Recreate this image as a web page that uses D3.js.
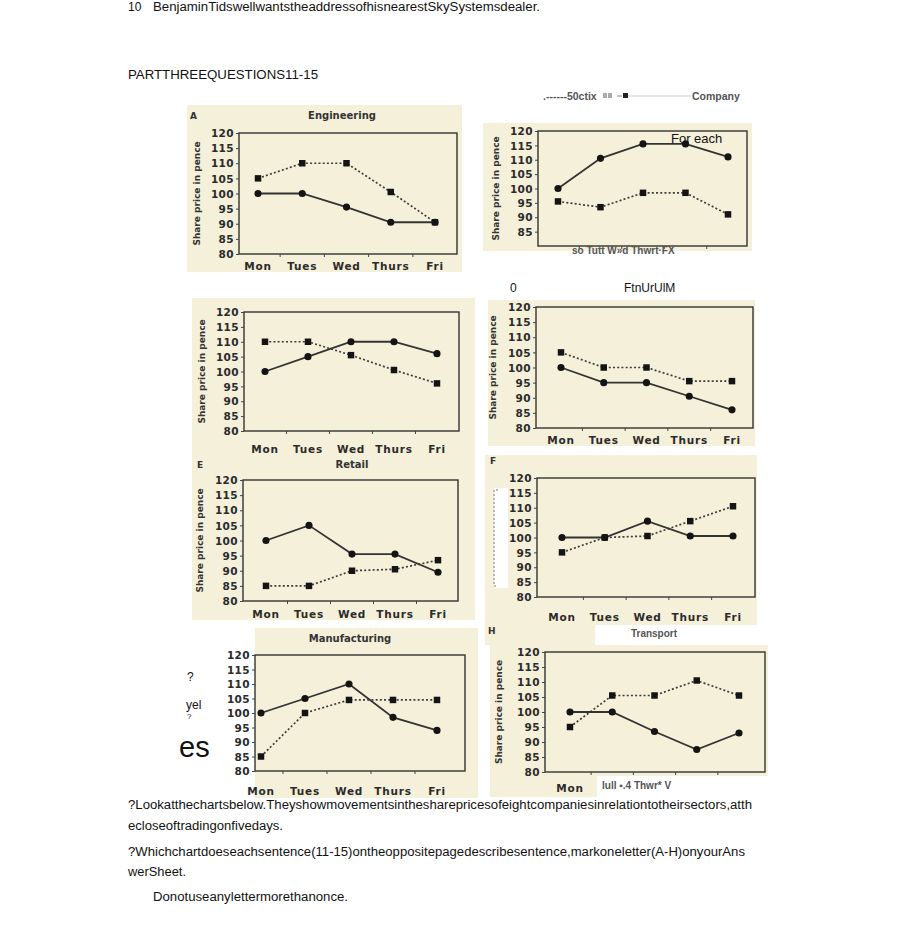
<!DOCTYPE html>
<html>
<head>
<meta charset="utf-8">
<script src="https://cdn.jsdelivr.net/npm/d3@7"></script>
<style>
  body { margin: 0; background: #fff; }
  svg { display: block; }
  .page { font-family: "Liberation Sans", Arial, sans-serif; font-size: 12px; fill: #111; }
  .tick { font-family: "DejaVu Sans", sans-serif; font-weight: bold; font-size: 10.5px; fill: #2b2b2b; }
  .ytitle { font-family: "DejaVu Sans", sans-serif; font-weight: bold; font-size: 9px; fill: #333; }
  .ptitle { font-family: "DejaVu Sans", sans-serif; font-weight: bold; font-size: 10px; fill: #333; }
  .garble { font-family: "Liberation Sans", Arial, sans-serif; font-weight: bold; font-size: 10.5px; fill: #555; }
</style>
</head>
<body>
<div id="chart"></div>
<script>
// ---- data ----
const days = ["Mon", "Tues", "Wed", "Thurs", "Fri"];
const yTicks = [80, 85, 90, 95, 100, 105, 110, 115, 120];

const companyA = [100, 100, 95.5, 90.5, 90.5];
const sectorA  = [105, 110, 110, 100.5, 90.5];
const companyB = [100, 110.5, 115.5, 115.5, 111];
const sectorB  = [95.5, 93.5, 98.5, 98.5, 91];
const companyC = [100, 105, 110, 110, 106];
const sectorC  = [110, 110, 105.5, 100.5, 96];
const companyD = [100, 95, 95, 90.5, 86];
const sectorD  = [105, 100, 100, 95.5, 95.5];
const companyE = [100, 105, 95.5, 95.5, 89.5];
const sectorE  = [85, 85, 90, 90.5, 93.5];
const companyF = [100, 100, 105.5, 100.5, 100.5];
const sectorF  = [95, 100, 100.5, 105.5, 110.5];
const companyG = [100, 105, 110, 98.5, 94];
const sectorG  = [85, 100, 104.5, 104.5, 104.5];
const companyH = [100, 100, 93.5, 87.5, 93];
const sectorH  = [95, 105.5, 105.5, 110.5, 105.5];

const pageLines = [
  "?Lookatthechartsbelow.Theyshowmovementsinthesharepricesofeightcompaniesinrelationtotheirsectors,atth",
  "ecloseoftradingonfivedays.",
  "?Whichchartdoeseachsentence(11-15)ontheoppositepagedescribesentence,markoneletter(A-H)onyourAns",
  "werSheet.",
  "Donotuseanylettermorethanonce."
];

// ---- layout of the eight panels (page positions) ----
const panels = [
  { company: companyA, sector: sectorA, bg: [[187, 105, 275, 167]],
    l: 239, r: 457, t: 133, b: 254, px: [258, 435],
    letter: ["A", 190, 119], title: ["Engineering", 342, 119], yTitleX: 197, xLabelY: 270 },
  { company: companyB, sector: sectorB, bg: [[483, 123, 269, 128]],
    l: 538, r: 747, t: 131, b: 246, px: [558, 728], yTitleX: 496, noBottomTick: true },
  { company: companyC, sector: sectorC, bg: [[192, 298, 283, 158]],
    l: 244, r: 459, t: 312, b: 431, px: [265, 437], yTitleX: 202, xLabelY: 453 },
  { company: companyD, sector: sectorD, bg: [[488, 300, 267, 146]],
    l: 536, r: 753, t: 307, b: 428, px: [561, 732], yTitleX: 493, xLabelY: 444 },
  { company: companyE, sector: sectorE, bg: [[192, 455, 283, 165]],
    l: 243, r: 458, t: 480, b: 601, px: [266, 438],
    letter: ["E", 197, 468], title: ["Retail", 352, 468], yTitleX: 200, xLabelY: 618 },
  { company: companyF, sector: sectorF, bg: [[485, 455, 272, 170]],
    l: 537, r: 755, t: 478, b: 597, px: [562, 733],
    letter: ["F", 490, 464], xLabelY: 621 },
  { company: companyG, sector: sectorG, bg: [[255, 628, 223, 170]],
    l: 255, r: 465, t: 655, b: 771, px: [261, 437],
    title: ["Manufacturing", 350, 642], xLabelY: 795 },
  { company: companyH, sector: sectorH, bg: [[490, 645, 278, 152], [485, 625, 110, 20]],
    l: 545, r: 765, t: 652, b: 772, px: [570, 739],
    letter: ["H", 488, 634], yTitleX: 499, xLabelY: 792, onlyFirstLabel: true }
];

const W = 920, H = 949;
const cream = "#f4f0da";

const svg = d3.select("#chart").append("svg")
    .attr("width", W).attr("height", H);

svg.append("rect").attr("width", W).attr("height", H).attr("fill", "#fff");

// page text
svg.append("text").attr("class", "page").attr("x", 128).attr("y", 11).text("10");
svg.append("text").attr("class", "page").attr("x", 153).attr("y", 11)
    .attr("textLength", 387).attr("lengthAdjust", "spacingAndGlyphs")
    .text("BenjaminTidswellwantstheaddressofhisnearestSkySystemsdealer.");
svg.append("text").attr("class", "page").attr("x", 128).attr("y", 79)
    .attr("textLength", 190).attr("lengthAdjust", "spacingAndGlyphs")
    .text("PARTTHREEQUESTIONS11-15");

const lineX = [128, 128, 128, 128, 153];
const lineY = [809, 830, 856, 876, 901];
const lineW = [624, 155, 617, 58, 195];
svg.selectAll("text.body").data(pageLines).enter().append("text")
    .attr("class", "page body")
    .attr("x", (d, i) => lineX[i])
    .attr("y", (d, i) => lineY[i])
    .attr("textLength", (d, i) => lineW[i])
    .attr("lengthAdjust", "spacingAndGlyphs")
    .text(d => d);

// panels
panels.forEach(function(p) {
    const g = svg.append("g");

    p.bg.forEach(function(r) {
        g.append("rect").attr("x", r[0]).attr("y", r[1])
            .attr("width", r[2]).attr("height", r[3]).attr("fill", cream);
    });

    const x = d3.scalePoint().domain(days).range(p.px);
    const y = d3.scaleLinear().domain([80, 120]).range([p.b, p.t]);

    // frame
    g.append("rect")
        .attr("x", p.l).attr("y", y(120))
        .attr("width", p.r - p.l).attr("height", y(80) - y(120))
        .attr("fill", "none").attr("stroke", "#333").attr("stroke-width", 1.4);

    // y axis ticks + labels
    const ticks = p.noBottomTick ? yTicks.filter(v => v > 80) : yTicks;
    const yAxis = g.append("g").attr("transform", "translate(" + p.l + ",0)")
        .call(d3.axisLeft(y).tickValues(ticks).tickSize(3).tickPadding(2));
    yAxis.select(".domain").remove();
    yAxis.selectAll("line").attr("stroke", "#444");
    yAxis.selectAll("text").attr("class", "tick").attr("font-family", null).attr("font-size", null)
        .attr("fill", null).attr("dy", "0.35em").attr("letter-spacing", 0.4);

    // small x ticks between days
    const step = x.step();
    g.selectAll("line.xt").data(days.slice(1)).enter().append("line")
        .attr("x1", d => x(d) - step / 2).attr("x2", d => x(d) - step / 2)
        .attr("y1", y(80)).attr("y2", y(80) + 3)
        .attr("stroke", "#444").attr("stroke-width", 1);

    // x labels
    if (p.xLabelY) {
        const labels = p.onlyFirstLabel ? days.slice(0, 1) : days;
        g.selectAll("text.xl").data(labels).enter().append("text")
            .attr("class", "tick")
            .attr("x", d => x(d)).attr("y", p.xLabelY)
            .attr("text-anchor", "middle")
            .attr("letter-spacing", 0.8)
            .text(d => d);
    }

    if (p.yTitleX) {
        g.append("text").attr("class", "ytitle")
            .attr("transform", "translate(" + p.yTitleX + "," + ((y(80) + y(120)) / 2) + ") rotate(-90)")
            .attr("text-anchor", "middle").attr("dy", "0.35em")
            .text("Share price in pence");
    }
    if (p.letter) {
        g.append("text").attr("class", "ptitle").attr("x", p.letter[1]).attr("y", p.letter[2])
            .style("font-size", "9px").text(p.letter[0]);
    }
    if (p.title) {
        g.append("text").attr("class", "ptitle").attr("x", p.title[1]).attr("y", p.title[2])
            .attr("text-anchor", "middle").text(p.title[0]);
    }

    const line = d3.line().x((d, i) => x(days[i])).y(d => y(d));

    // sector: dotted with squares
    g.append("path").attr("d", line(p.sector))
        .attr("fill", "none").attr("stroke", "#3c3c3c").attr("stroke-width", 1.7)
        .attr("stroke-dasharray", "2,2.2");
    g.selectAll("path.sq").data(p.sector).enter().append("path")
        .attr("transform", (d, i) => "translate(" + x(days[i]) + "," + y(d) + ")")
        .attr("d", d3.symbol().type(d3.symbolSquare).size(42))
        .attr("fill", "#141414");

    // company: solid with round diamonds
    g.append("path").attr("d", line(p.company))
        .attr("fill", "none").attr("stroke", "#333").attr("stroke-width", 1.8);
    g.selectAll("path.dm").data(p.company).enter().append("path")
        .attr("transform", (d, i) => "translate(" + x(days[i]) + "," + y(d) + ")")
        .attr("d", d3.symbol().type(d3.symbolCircle).size(40))
        .attr("fill", "#141414");
});

// ---- overlays left on the scanned page ----
// legend line at top
svg.append("text").attr("class", "garble").attr("x", 543).attr("y", 100).text(".------50ctix");
[603, 608].forEach(function(xx) {
    svg.append("rect").attr("x", xx).attr("y", 93).attr("width", 4).attr("height", 5).attr("fill", "#aaa");
});
svg.append("line").attr("x1", 617).attr("x2", 622).attr("y1", 96).attr("y2", 96).attr("stroke", "#888");
svg.append("rect").attr("x", 623).attr("y", 93).attr("width", 5).attr("height", 5).attr("fill", "#222");
svg.append("line").attr("x1", 628).attr("x2", 691).attr("y1", 96).attr("y2", 96)
    .attr("stroke", "#bbb").attr("stroke-width", 0.8);
svg.append("text").attr("class", "garble").attr("x", 692).attr("y", 100).text("Company");

svg.append("text").attr("class", "page").attr("x", 671).attr("y", 143)
    .style("font-size", "13px").text("For each");
svg.append("text").attr("class", "garble").attr("x", 572).attr("y", 254)
    .style("font-size", "10px").text("so Tutt W\u00bbd Thwrt\u00b7FX");

svg.append("text").attr("class", "page").attr("x", 510).attr("y", 292).text("0");
svg.append("text").attr("class", "page").attr("x", 624).attr("y", 292).text("FtnUrUlM");

// white patch with dashed edge in panel F
svg.append("rect").attr("x", 494).attr("y", 488).attr("width", 14).attr("height", 100).attr("fill", "#fff");
svg.append("path").attr("d", "M498,490 L494,490 L494,586 L498,586")
    .attr("fill", "none").attr("stroke", "#777").attr("stroke-dasharray", "2,2");

// panel G left marks
svg.append("text").attr("class", "page").attr("x", 187).attr("y", 681).text("?");
svg.append("text").attr("class", "page").attr("x", 186).attr("y", 709).text("yel");
svg.append("text").attr("class", "page").attr("x", 187).attr("y", 719).style("font-size", "8px").text("?");
svg.append("text").attr("class", "page").attr("x", 179).attr("y", 757).style("font-size", "29px").text("es");

// panel H title and garbled axis
svg.append("text").attr("class", "garble").attr("x", 654).attr("y", 637).attr("text-anchor", "middle")
    .style("font-size", "10px").text("Transport");
svg.append("rect").attr("x", 597).attr("y", 776).attr("width", 172).attr("height", 22).attr("fill", "#fff");
svg.append("text").attr("class", "garble").attr("x", 602).attr("y", 789)
    .style("font-size", "10px").text("lull \u25aa.4 Thwr* V");
</script>
</body>
</html>
